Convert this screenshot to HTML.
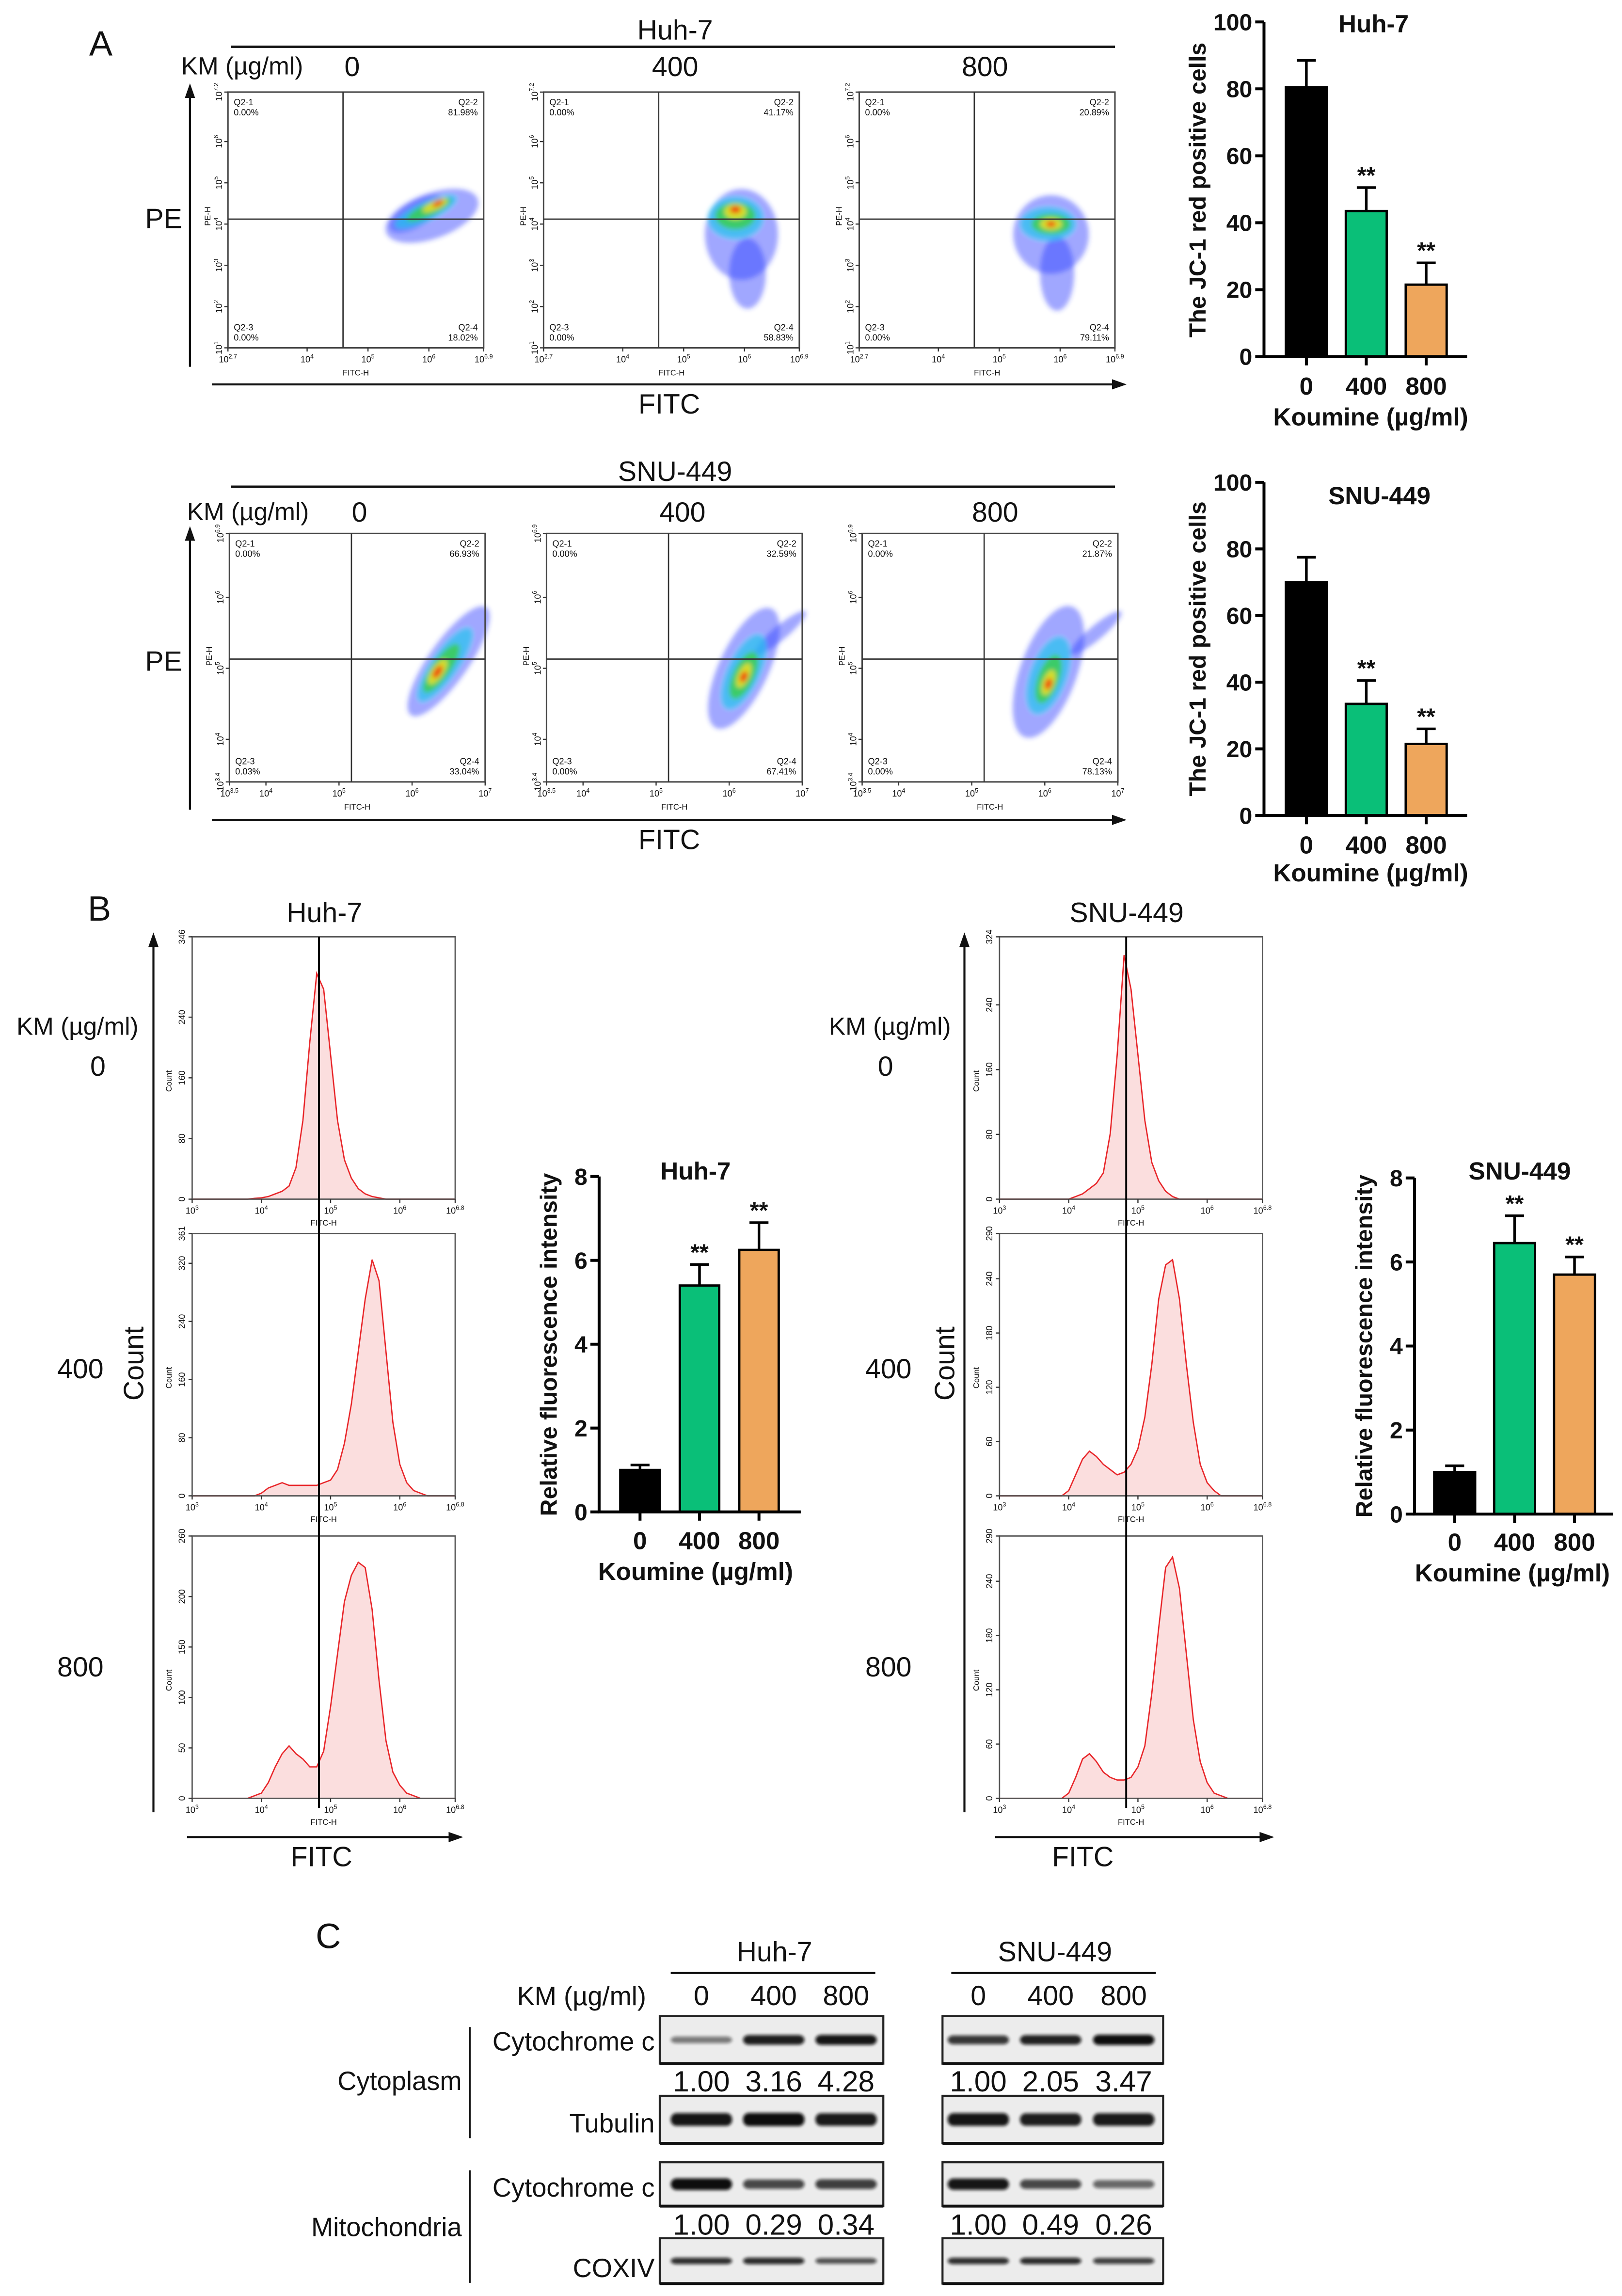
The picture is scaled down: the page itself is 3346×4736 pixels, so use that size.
<!DOCTYPE html>
<html><head><meta charset="utf-8">
<style>
html,body{margin:0;padding:0;background:#fff;}
svg{display:block;}
text{font-family:"Liberation Sans",Arial,sans-serif;fill:#111;}
.b{font-weight:bold;}
</style></head>
<body>
<svg id="fig" xmlns="http://www.w3.org/2000/svg" width="3346" height="4736" viewBox="0 0 1110 1571" preserveAspectRatio="none">
<defs>
<filter id="soft" x="-50%" y="-50%" width="200%" height="200%"><feGaussianBlur stdDeviation="1.6"/></filter>
<filter id="band" x="-30%" y="-100%" width="160%" height="300%"><feGaussianBlur stdDeviation="1.1"/></filter>
</defs>
<rect x="0" y="0" width="1110" height="1571" fill="#fff"/>

<!-- Panel A -->
<text x="61" y="38" font-size="24">A</text>
<text x="462" y="27" font-size="19" text-anchor="middle">Huh-7</text>
<line x1="158" y1="32" x2="763" y2="32" stroke="#111" stroke-width="1.6"/>
<text x="124" y="51" font-size="17">KM (µg/ml)</text>
<text x="241" y="52" font-size="19" text-anchor="middle">0</text>
<text x="462" y="52" font-size="19" text-anchor="middle">400</text>
<text x="674" y="52" font-size="19" text-anchor="middle">800</text>
<text x="112" y="156" font-size="19" text-anchor="middle">PE</text>
<line x1="130" y1="251" x2="130" y2="64" stroke="#111" stroke-width="1.4"/>
<polygon points="130,57 126.5,67 133.5,67" fill="#111"/>
<line x1="145" y1="263" x2="763" y2="263" stroke="#111" stroke-width="1.4"/>
<polygon points="771,263 761,259.5 761,266.5" fill="#111"/>
<text x="458" y="283" font-size="19" text-anchor="middle">FITC</text>

<text x="462" y="329" font-size="19" text-anchor="middle">SNU-449</text>
<line x1="158" y1="333" x2="763" y2="333" stroke="#111" stroke-width="1.6"/>
<text x="128" y="356" font-size="17">KM (µg/ml)</text>
<text x="246" y="357" font-size="19" text-anchor="middle">0</text>
<text x="467" y="357" font-size="19" text-anchor="middle">400</text>
<text x="681" y="357" font-size="19" text-anchor="middle">800</text>
<text x="112" y="459" font-size="19" text-anchor="middle">PE</text>
<line x1="130" y1="554" x2="130" y2="367" stroke="#111" stroke-width="1.4"/>
<polygon points="130,360 126.5,370 133.5,370" fill="#111"/>
<line x1="145" y1="561" x2="763" y2="561" stroke="#111" stroke-width="1.4"/>
<polygon points="771,561 761,557.5 761,564.5" fill="#111"/>
<text x="458" y="581" font-size="19" text-anchor="middle">FITC</text>

<!-- Panel B -->
<text x="60" y="630" font-size="24">B</text>
<text x="222" y="631" font-size="19" text-anchor="middle">Huh-7</text>
<text x="53" y="708" font-size="17" text-anchor="middle">KM (µg/ml)</text>
<text x="67" y="736" font-size="19" text-anchor="middle">0</text>
<text x="55" y="943" font-size="19" text-anchor="middle">400</text>
<text x="55" y="1147" font-size="19" text-anchor="middle">800</text>
<text x="98" y="933" font-size="19" text-anchor="middle" transform="rotate(-90 98 933)">Count</text>
<line x1="105" y1="1240" x2="105" y2="645" stroke="#111" stroke-width="1.4"/>
<polygon points="105,638 101.5,648 108.5,648" fill="#111"/>
<line x1="128" y1="1257" x2="309" y2="1257" stroke="#111" stroke-width="1.4"/>
<polygon points="317,1257 307,1253.5 307,1260.5" fill="#111"/>
<text x="220" y="1277" font-size="19" text-anchor="middle">FITC</text>

<text x="771" y="631" font-size="19" text-anchor="middle">SNU-449</text>
<text x="609" y="708" font-size="17" text-anchor="middle">KM (µg/ml)</text>
<text x="606" y="736" font-size="19" text-anchor="middle">0</text>
<text x="608" y="943" font-size="19" text-anchor="middle">400</text>
<text x="608" y="1147" font-size="19" text-anchor="middle">800</text>
<text x="653" y="933" font-size="19" text-anchor="middle" transform="rotate(-90 653 933)">Count</text>
<line x1="660" y1="1240" x2="660" y2="645" stroke="#111" stroke-width="1.4"/>
<polygon points="660,638 656.5,648 663.5,648" fill="#111"/>
<line x1="681" y1="1257" x2="864" y2="1257" stroke="#111" stroke-width="1.4"/>
<polygon points="872,1257 862,1253.5 862,1260.5" fill="#111"/>
<text x="741" y="1277" font-size="19" text-anchor="middle">FITC</text>

<!-- Panel C -->
<text x="216" y="1333" font-size="24">C</text>
<text x="530" y="1342" font-size="19" text-anchor="middle">Huh-7</text>
<line x1="459" y1="1350" x2="599" y2="1350" stroke="#111" stroke-width="1.4"/>
<text x="722" y="1342" font-size="19" text-anchor="middle">SNU-449</text>
<line x1="651" y1="1350" x2="791" y2="1350" stroke="#111" stroke-width="1.4"/>
<text x="398" y="1372" font-size="18" text-anchor="middle">KM (µg/ml)</text>
<text x="448" y="1403" font-size="18" text-anchor="end">Cytochrome c</text>
<text x="448" y="1459" font-size="18" text-anchor="end">Tubulin</text>
<text x="448" y="1503" font-size="18" text-anchor="end">Cytochrome c</text>
<text x="448" y="1558" font-size="18" text-anchor="end">COXIV</text>
<line x1="321.5" y1="1387" x2="321.5" y2="1463" stroke="#111" stroke-width="1.2"/>
<line x1="321.5" y1="1485" x2="321.5" y2="1562" stroke="#111" stroke-width="1.2"/>
<text x="316" y="1430" font-size="18" text-anchor="end">Cytoplasm</text>
<text x="316" y="1530" font-size="18" text-anchor="end">Mitochondria</text>
</svg>

<script>
// ---------------- data ----------------
const doseCategories = ['0', '400', '800'];
const sigMarks = ['', '**', '**'];
const jcHuhMeans = [80.5, 43.5, 21.5];
const jcHuhErr = [8, 7, 6.5];
const jcSnuMeans = [70, 33.5, 21.5];
const jcSnuErr = [7.5, 7, 4.5];
const mfiHuhMeans = [1.0, 5.4, 6.25];
const mfiHuhErr = [0.12, 0.5, 0.65];
const mfiSnuMeans = [1.0, 6.45, 5.7];
const mfiSnuErr = [0.15, 0.65, 0.42];
const jcTicks = [0, 20, 40, 60, 80, 100];
const mfiTicks = [0, 2, 4, 6, 8];

// flow cytometry quadrant percentages [Q2-1, Q2-2, Q2-3, Q2-4] per dose
const huhQuadPct = [[0.00, 81.98, 0.00, 18.02], [0.00, 41.17, 0.00, 58.83], [0.00, 20.89, 0.00, 79.11]];
const snuQuadPct = [[0.00, 66.93, 0.03, 33.04], [0.00, 32.59, 0.00, 67.41], [0.00, 21.87, 0.00, 78.13]];
const huhFlowXTicks = [2.7, 4, 5, 6, 6.9];
const huhFlowYTicks = [1, 2, 3, 4, 5, 6, 7.2];
const snuFlowXTicks = [3.5, 4, 5, 6, 7];
const snuFlowYTicks = [3.4, 4, 5, 6, 6.9];
const huhGate = [4.59, 4.12];
const snuGate = [5.17, 5.13];
// cell clouds: [log FITC, log PE, radiusX (dec), radiusY (dec), angle, density level]
const huhClouds = [
 [[6.05,4.2,.8,.55,-20,0],[5.8,4.25,.5,.3,-30,0],[5.95,4.3,.55,.22,-25,1],[6.0,4.35,.4,.16,-25,2],[6.1,4.45,.22,.1,-25,3],[6.15,4.5,.1,.06,-25,4]],
 [[5.95,3.75,.6,1.1,0,0],[6.05,2.8,.3,.85,0,0],[5.85,4.15,.45,.5,0,1],[5.85,4.2,.33,.33,0,2],[5.85,4.3,.18,.18,0,3],[5.85,4.35,.09,.09,0,4]],
 [[5.85,3.75,.62,.95,0,0],[5.95,2.8,.28,.9,0,0],[5.8,4.0,.45,.4,0,1],[5.85,4.0,.32,.25,0,2],[5.85,4.0,.18,.14,0,3],[5.85,4.0,.08,.07,0,4]]
];
const snuClouds = [
 [[6.5,5.1,.9,.28,-55,0],[6.45,5.05,.6,.18,-55,1],[6.4,5.0,.4,.13,-55,2],[6.35,4.95,.2,.08,-55,3],[6.35,4.95,.1,.05,-55,4]],
 [[6.2,5.0,.9,.35,-65,0],[6.7,5.5,.45,.1,-40,0],[6.2,4.95,.55,.22,-65,1],[6.2,4.9,.35,.15,-65,2],[6.2,4.9,.18,.08,-65,3],[6.2,4.88,.08,.05,-65,4]],
 [[6.05,4.95,.95,.4,-70,0],[6.7,5.5,.45,.1,-40,0],[6.05,4.9,.55,.25,-70,1],[6.05,4.85,.35,.15,-70,2],[6.05,4.8,.18,.08,-70,3],[6.05,4.78,.08,.05,-70,4]]
];

// histograms: log10 FITC bins 3.0..6.8 (step 0.1), heights as fraction of axis max
const histBins = [3.0,3.1,3.2,3.3,3.4,3.5,3.6,3.7,3.8,3.9,4.0,4.1,4.2,4.3,4.4,4.5,4.6,4.7,4.8,4.9,5.0,5.1,5.2,5.3,5.4,5.5,5.6,5.7,5.8,5.9,6.0,6.1,6.2,6.3,6.4,6.5,6.6,6.7,6.8];
const huhHist0 = [0,0,0,0,0,0,0,0,0,.003,.005,.01,.02,.03,.05,.12,.3,.6,.86,.8,.55,.3,.15,.08,.04,.02,.01,.005,0,0,0,0,0,0,0,0,0,0,0];
const huhHist400 = [0,0,0,0,0,0,0,0,0,0,.01,.03,.04,.05,.04,.04,.04,.04,.04,.05,.06,.1,.2,.35,.55,.75,.9,.82,.55,.28,.12,.05,.02,.01,0,0,0,0,0];
const huhHist800 = [0,0,0,0,0,0,0,0,0,.01,.02,.06,.12,.17,.2,.17,.15,.12,.12,.18,.35,.55,.75,.85,.9,.88,.72,.45,.22,.1,.05,.02,.01,0,0,0,0,0,0];
const snuHist0 = [0,0,0,0,0,0,0,0,0,0,0,.01,.02,.04,.06,.1,.25,.55,.93,.8,.55,.3,.14,.07,.03,.01,0,0,0,0,0,0,0,0,0,0,0,0,0];
const snuHist400 = [0,0,0,0,0,0,0,0,0,0,.02,.08,.14,.17,.15,.12,.1,.08,.09,.12,.18,.3,.5,.75,.88,.9,.75,.5,.28,.12,.05,.02,0,0,0,0,0,0,0];
const snuHist800 = [0,0,0,0,0,0,0,0,0,0,.02,.08,.15,.17,.14,.1,.08,.07,.07,.08,.12,.2,.4,.65,.88,.92,.8,.55,.3,.14,.06,.02,.01,0,0,0,0,0,0];
const histXTicks = [3, 4, 5, 6, 6.8];
const huhHistMax = [346, 361, 260];
const snuHistMax = [324, 290, 290];
const huhHistTicks = [[0,80,160,240],[0,80,160,240,320],[0,50,100,150,200]];
const snuHistTicks = [[0,80,160,240],[0,60,120,180,240],[0,60,120,180,240]];

// western blot values and band intensities
const wbCytoHuhVals = ['1.00', '3.16', '4.28'];
const wbCytoSnuVals = ['1.00', '2.05', '3.47'];
const wbMitoHuhVals = ['1.00', '0.29', '0.34'];
const wbMitoSnuVals = ['1.00', '0.49', '0.26'];
const bandCytoHuh = [0.35, 0.9, 0.95];
const bandCytoSnu = [0.75, 0.88, 1.0];
const bandTubHuh = [0.95, 1.0, 0.92];
const bandTubSnu = [0.95, 0.9, 0.92];
const bandMitoHuh = [1.0, 0.65, 0.7];
const bandMitoSnu = [0.95, 0.65, 0.45];
const bandCoxHuh = [0.8, 0.82, 0.6];
const bandCoxSnu = [0.8, 0.82, 0.7];

// ---------------- drawing ----------------
const NS = 'http://www.w3.org/2000/svg';
const svg = document.getElementById('fig');
function mk(tag, attrs, parent) {
  const e = document.createElementNS(NS, tag);
  for (const k in attrs) e.setAttribute(k, attrs[k]);
  (parent || svg).appendChild(e);
  return e;
}
function powText(parent, x, y, exp, fs, anchor, rot) {
  const t = mk('text', {x: x, y: y, 'font-size': fs, 'text-anchor': anchor, fill: '#333'}, parent);
  if (rot) t.setAttribute('transform', 'rotate(-90 ' + x + ' ' + y + ')');
  t.appendChild(document.createTextNode('10'));
  const s = mk('tspan', {dy: -fs * 0.45, 'font-size': fs * 0.7}, t);
  s.textContent = String(exp);
  return t;
}

const barColors = ['#000000', '#0abf78', '#eea65c'];

function drawBars(cfg, means, errs, ticks) {
  const g = mk('g', {});
  
  
  const y = v => cfg.y0 - (v / cfg.max) * (cfg.y0 - cfg.yTop);
  const cx = i => cfg.c0 + i * cfg.step;
  means.forEach((m, i) => {
    const r = mk('rect', {x: cx(i) - cfg.w / 2, y: y(m), width: cfg.w, height: cfg.y0 - y(m), fill: barColors[i], stroke: '#000', 'stroke-width': 1.6}, g);
    
    
    const top = y(m + errs[i]);
    const e = mk('path', {d: 'M' + cx(i) + ' ' + y(m) + 'V' + top + 'M' + (cx(i) - 6.5) + ' ' + top + 'H' + (cx(i) + 6.5), stroke: '#000', 'stroke-width': 1.8, fill: 'none'}, g);
    
    
    if (sigMarks[i]) {
      const s = mk('text', {x: cx(i), y: top - 3, 'font-size': 16, 'text-anchor': 'middle', 'class': 'b'}, g);
      s.textContent = sigMarks[i];
      
      
    }
  });
  const ax = mk('path', {d: 'M' + cfg.axisX + ' ' + cfg.yTop + 'V' + cfg.y0 + 'H' + cfg.axisEnd, stroke: '#000', 'stroke-width': 2, fill: 'none'}, g);
  
  
  ticks.forEach(t => {
    const tk = mk('line', {x1: cfg.axisX - 6, x2: cfg.axisX, y1: y(t), y2: y(t), stroke: '#000', 'stroke-width': 2}, g);
    
    
    const tl = mk('text', {x: cfg.axisX - 8, y: y(t) + 5.7, 'font-size': 16, 'text-anchor': 'end', 'class': 'b'}, g);
    tl.textContent = String(t);
    
    
  });
  doseCategories.forEach((c, i) => {
    const tk = mk('line', {x1: cx(i), x2: cx(i), y1: cfg.y0, y2: cfg.y0 + 6, stroke: '#000', 'stroke-width': 2}, g);
    
    
    const tl = mk('text', {x: cx(i), y: cfg.catY, 'font-size': 17, 'text-anchor': 'middle', 'class': 'b'}, g);
    tl.textContent = c;
    
    
  });
  const tt = mk('text', {x: cfg.titleX, y: cfg.titleY, 'font-size': 17, 'text-anchor': 'middle', 'class': 'b'}, g);
  tt.textContent = cfg.title;
  
  
  const kx = mk('text', {x: cfg.koumX, y: cfg.koumY, 'font-size': 17, 'text-anchor': 'middle', 'class': 'b'}, g);
  kx.textContent = 'Koumine (µg/ml)';
  
  
  const yl = mk('text', {x: cfg.ylX, y: cfg.ylY, 'font-size': cfg.ylFs, 'text-anchor': 'middle', 'class': 'b', transform: 'rotate(-90 ' + cfg.ylX + ' ' + cfg.ylY + ')'}, g);
  yl.textContent = cfg.ylabel;
  
  
}

drawBars({name: 'jc1-huh7-bar-chart', y0: 244, yTop: 15, max: 100, axisX: 865, axisEnd: 1004, c0: 894, step: 41, w: 28,
  title: 'Huh-7', titleX: 940, titleY: 22, catY: 270, koumX: 938, koumY: 291, ylX: 825, ylY: 130, ylFs: 16, ylabel: 'The JC-1 red positive cells'},
  jcHuhMeans, jcHuhErr, jcTicks);
drawBars({name: 'jc1-snu449-bar-chart', y0: 558, yTop: 330, max: 100, axisX: 865, axisEnd: 1004, c0: 894, step: 41, w: 28,
  title: 'SNU-449', titleX: 944, titleY: 345, catY: 584, koumX: 938, koumY: 603, ylX: 825, ylY: 444, ylFs: 16, ylabel: 'The JC-1 red positive cells'},
  jcSnuMeans, jcSnuErr, jcTicks);
drawBars({name: 'mfi-huh7-bar-chart', y0: 1034.5, yTop: 805, max: 8, axisX: 410, axisEnd: 548, c0: 438, step: 40.7, w: 27,
  title: 'Huh-7', titleX: 476, titleY: 807, catY: 1060, koumX: 476, koumY: 1081, ylX: 381, ylY: 920, ylFs: 16, ylabel: 'Relative fluorescence intensity'},
  mfiHuhMeans, mfiHuhErr, mfiTicks);
drawBars({name: 'mfi-snu449-bar-chart', y0: 1036, yTop: 806, max: 8, axisX: 968, axisEnd: 1104, c0: 995.5, step: 41, w: 28,
  title: 'SNU-449', titleX: 1040, titleY: 807, catY: 1061, koumX: 1035, koumY: 1082, ylX: 939, ylY: 921, ylFs: 16, ylabel: 'Relative fluorescence intensity'},
  mfiSnuMeans, mfiSnuErr, mfiTicks);

// ----- flow dot plots -----
const cloudColors = ['#2a3cff', '#22c4ee', '#3ad046', '#f2e21c', '#f23a10'];
const cloudOpac = [0.45, 0.7, 0.8, 0.85, 0.9];
function drawFlow(name, fx, fy, fw, fh, xr, yr, xt, yt, gate, pct, clouds) {
  const g = mk('g', {});
  
  
  const sx = fw / (xr[1] - xr[0]), sy = fh / (yr[1] - yr[0]);
  const X = v => fx + (v - xr[0]) * sx;
  const Y = v => fy + fh - (v - yr[0]) * sy;
  const cg = mk('g', {filter: 'url(#soft)'}, g);
  
  
  clouds.forEach(c => {
    const cx = X(c[0]), cy = Y(c[1]);
    const el = mk('ellipse', {cx: cx, cy: cy, rx: c[2] * sx, ry: c[3] * sy, fill: cloudColors[c[5]], opacity: cloudOpac[c[5]], transform: 'rotate(' + c[4] + ' ' + cx + ' ' + cy + ')'}, cg);
    
    
  });
  const fr = mk('rect', {x: fx, y: fy, width: fw, height: fh, fill: 'none', stroke: '#444', 'stroke-width': 1}, g);
  
  
  const vl = mk('line', {x1: X(gate[0]), x2: X(gate[0]), y1: fy, y2: fy + fh, stroke: '#333', 'stroke-width': 0.9}, g);
  
  
  const hl = mk('line', {x1: fx, x2: fx + fw, y1: Y(gate[1]), y2: Y(gate[1]), stroke: '#333', 'stroke-width': 0.9}, g);
  
  
  const qpos = [[fx + 4, fy + 9, 'start'], [fx + fw - 4, fy + 9, 'end'], [fx + 4, fy + fh - 12, 'start'], [fx + fw - 4, fy + fh - 12, 'end']];
  pct.forEach((p, i) => {
    const t = mk('text', {x: qpos[i][0], y: qpos[i][1], 'font-size': 6, 'text-anchor': qpos[i][2], fill: '#333'}, g);
    t.textContent = 'Q2-' + (i + 1);
    
    
    const v = mk('text', {x: qpos[i][0], y: qpos[i][1] + 7, 'font-size': 6, 'text-anchor': qpos[i][2], fill: '#333'}, g);
    v.textContent = p.toFixed(2) + '%';
    
    
  });
  xt.forEach(t => {
    const tk = mk('line', {x1: X(t), x2: X(t), y1: fy + fh, y2: fy + fh + 2.5, stroke: '#333', 'stroke-width': 0.8}, g);
    
    
    const tl = powText(g, X(t), fy + fh + 10, t, 6, 'middle', false);
    
    
  });
  yt.forEach(t => {
    const tk = mk('line', {x1: fx - 2.5, x2: fx, y1: Y(t), y2: Y(t), stroke: '#333', 'stroke-width': 0.8}, g);
    
    
    const tl = powText(g, fx - 4, Y(t), t, 6, 'middle', true);
    
    
  });
  const xl = mk('text', {x: fx + fw / 2, y: fy + fh + 19, 'font-size': 5.5, 'text-anchor': 'middle', fill: '#333'}, g);
  xl.textContent = 'FITC-H';
  
  
  const yx = fx - 12, yy = Y(gate[1]) - 2;
  const yl = mk('text', {x: yx, y: yy, 'font-size': 5.5, 'text-anchor': 'middle', fill: '#333', transform: 'rotate(-90 ' + yx + ' ' + yy + ')'}, g);
  yl.textContent = 'PE-H';
  
  
}
const huhFlowLeft = [156, 372, 588];
const snuFlowLeft = [157, 374, 590];
for (let i = 0; i < 3; i++) {
  drawFlow('flow-huh7-' + doseCategories[i], huhFlowLeft[i], 63, 175, 175, [2.7, 6.9], [1, 7.2], huhFlowXTicks, huhFlowYTicks, huhGate, huhQuadPct[i], huhClouds[i]);
  drawFlow('flow-snu449-' + doseCategories[i], snuFlowLeft[i], 365, 175, 170, [3.5, 7], [3.4, 6.9], snuFlowXTicks, snuFlowYTicks, snuGate, snuQuadPct[i], snuClouds[i]);
}

// ----- histograms -----
function drawHist(name, fx, fy, fw, fh, fracs, ymax, yticks, showXTitle) {
  const g = mk('g', {});
  
  
  const X = v => fx + (v - 3) / 3.8 * fw;
  const Y = f => fy + fh - f * fh;
  let d = 'M' + X(histBins[0]) + ' ' + Y(0);
  histBins.forEach((b, i) => { d += 'L' + X(b).toFixed(2) + ' ' + Y(fracs[i]).toFixed(2); });
  const area = mk('path', {d: d + 'L' + X(histBins[histBins.length - 1]) + ' ' + Y(0) + 'Z', fill: '#fbdede', stroke: 'none'}, g);
  
  
  let ld = '';
  histBins.forEach((b, i) => { ld += (i ? 'L' : 'M') + X(b).toFixed(2) + ' ' + Y(fracs[i]).toFixed(2); });
  const line = mk('path', {d: ld, fill: 'none', stroke: '#e8262a', 'stroke-width': 0.9}, g);
  
  
  const fr = mk('rect', {x: fx, y: fy, width: fw, height: fh, fill: 'none', stroke: '#555', 'stroke-width': 0.9}, g);
  
  
  histXTicks.forEach(t => {
    const tk = mk('line', {x1: X(t), x2: X(t), y1: fy + fh, y2: fy + fh + 2.5, stroke: '#333', 'stroke-width': 0.8}, g);
    
    
    const tl = powText(g, X(t), fy + fh + 10, t, 6, 'middle', false);
    
    
  });
  yticks.concat([ymax]).forEach(t => {
    const yy = Y(t / ymax);
    const tk = mk('line', {x1: fx - 2.5, x2: fx, y1: yy, y2: yy, stroke: '#333', 'stroke-width': 0.8}, g);
    
    
    const tl = mk('text', {x: fx - 5, y: yy, 'font-size': 6, 'text-anchor': 'middle', fill: '#333', transform: 'rotate(-90 ' + (fx - 5) + ' ' + yy + ')'}, g);
    tl.textContent = String(t);
    
    
  });
  const yx = fx - 14, yy = fy + fh * 0.55;
  const yl = mk('text', {x: yx, y: yy, 'font-size': 5.5, 'text-anchor': 'middle', fill: '#333', transform: 'rotate(-90 ' + yx + ' ' + yy + ')'}, g);
  yl.textContent = 'Count';
  
  
  if (showXTitle) {
    const xl = mk('text', {x: fx + fw / 2, y: fy + fh + 18, 'font-size': 5.5, 'text-anchor': 'middle', fill: '#333'}, g);
    xl.textContent = 'FITC-H';
    
    
  }
}
const huhHists = [huhHist0, huhHist400, huhHist800];
const snuHists = [snuHist0, snuHist400, snuHist800];
const histTops = [641, 844, 1051];
for (let i = 0; i < 3; i++) {
  drawHist('histogram-huh7-' + doseCategories[i], 131.5, histTops[i], 180, 179.5, huhHists[i], huhHistMax[i], huhHistTicks[i], true);
  drawHist('histogram-snu449-' + doseCategories[i], 684, histTops[i], 180, 179.5, snuHists[i], snuHistMax[i], snuHistTicks[i], true);
}
const ml1 = mk('line', {x1: 218.3, x2: 218.3, y1: 641, y2: 1237, stroke: '#000', 'stroke-width': 1.3});


const ml2 = mk('line', {x1: 770.7, x2: 770.7, y1: 641, y2: 1237, stroke: '#000', 'stroke-width': 1.3});



// ----- western blots -----
const huhLanes = [480, 529.5, 579];
const snuLanes = [669.5, 719, 769];
doseCategories.forEach((c, i) => {
  const a = mk('text', {x: huhLanes[i], y: 1372, 'font-size': 19, 'text-anchor': 'middle'});
  a.textContent = c;
  
  
  const b = mk('text', {x: snuLanes[i], y: 1372, 'font-size': 19, 'text-anchor': 'middle'});
  b.textContent = c;
  
  
});
function drawBlot(name, x0, x1, y0, y1, lanes, intens, bandH) {
  const g = mk('g', {});
  
  
  const bg = mk('rect', {x: x0, y: y0, width: x1 - x0, height: y1 - y0, fill: '#ececec', stroke: '#222', 'stroke-width': 1.4}, g);
  
  
  const bb = mk('line', {x1: x0, x2: x1, y1: y1, y2: y1, stroke: '#111', 'stroke-width': 2}, g);
  
  
  const cy = (y0 + y1) / 2;
  lanes.forEach((lx, i) => {
    const band = mk('rect', {x: lx - 21, y: cy - bandH * (0.45 + 0.55 * intens[i]) / 2, width: 42, height: bandH * (0.45 + 0.55 * intens[i]), rx: 4, fill: '#0a0a0a', opacity: 0.25 + 0.75 * intens[i], filter: 'url(#band)'}, g);
    
    
  });
}
drawBlot('wb-huh7-cyto-cytc', 451.5, 604.5, 1379.5, 1412, huhLanes, bandCytoHuh, 7);
drawBlot('wb-snu449-cyto-cytc', 645, 796, 1379.5, 1412, snuLanes, bandCytoSnu, 7);
drawBlot('wb-huh7-tubulin', 451.5, 604.5, 1434, 1466.5, huhLanes, bandTubHuh, 9);
drawBlot('wb-snu449-tubulin', 645, 796, 1434, 1466.5, snuLanes, bandTubSnu, 9);
drawBlot('wb-huh7-mito-cytc', 451.5, 604.5, 1479.5, 1509.5, huhLanes, bandMitoHuh, 8);
drawBlot('wb-snu449-mito-cytc', 645, 796, 1479.5, 1509.5, snuLanes, bandMitoSnu, 8);
drawBlot('wb-huh7-coxiv', 451.5, 604.5, 1531.5, 1562.5, huhLanes, bandCoxHuh, 5);
drawBlot('wb-snu449-coxiv', 645, 796, 1531.5, 1562.5, snuLanes, bandCoxSnu, 5);
function drawVals(vals, lanes, y, name) {
  vals.forEach((v, i) => {
    const t = mk('text', {x: lanes[i], y: y, 'font-size': 20, 'text-anchor': 'middle'});
    t.textContent = v;
    
    
  });
}
drawVals(wbCytoHuhVals, huhLanes, 1431, 'wb-huh7-cyto-value');
drawVals(wbCytoSnuVals, snuLanes, 1431, 'wb-snu449-cyto-value');
drawVals(wbMitoHuhVals, huhLanes, 1529, 'wb-huh7-mito-value');
drawVals(wbMitoSnuVals, snuLanes, 1529, 'wb-snu449-mito-value');
</script>
</body></html>
